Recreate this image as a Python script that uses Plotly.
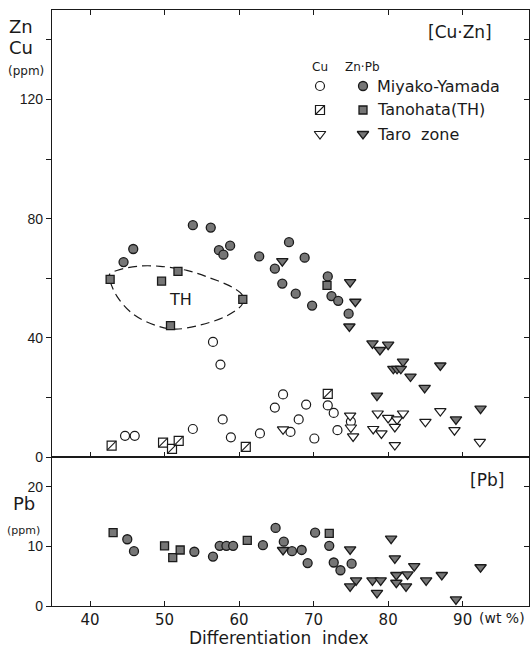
import plotly.graph_objects as go

# ---------------- data ----------------
# Upper panel: Cu (open symbols) and Zn (filled symbols), ppm
my_cu_x = [44.7, 46.0, 53.8, 56.5, 57.5, 57.8, 58.9, 62.8, 64.8, 65.9, 66.9, 68.0, 69.0, 70.1, 71.9, 72.7, 73.2, 75.0]
my_cu_y = [7.1, 7.1, 9.4, 38.6, 31.0, 12.6, 6.6, 7.9, 16.6, 21.0, 8.4, 12.6, 17.6, 6.2, 17.3, 14.8, 9.0, 11.9]

th_cu_x = [42.9, 49.8, 51.0, 51.9, 60.9, 71.9]
th_cu_y = [3.8, 4.8, 2.7, 5.4, 3.4, 21.2]

taro_cu_x = [65.9, 74.9, 75.0, 75.3, 78.6, 78.0, 79.1, 80.0, 81.2, 80.9, 82.0, 80.9, 85.0, 87.0, 88.9, 92.3]
taro_cu_y = [9.3, 13.9, 9.9, 6.9, 14.6, 9.4, 7.9, 13.1, 12.6, 10.1, 14.6, 4.0, 11.8, 15.4, 9.0, 5.1]

my_zn_x = [44.5, 45.8, 53.8, 56.2, 57.3, 57.9, 58.8, 62.7, 64.8, 65.8, 66.7, 67.6, 68.8, 69.8, 71.9, 72.4, 73.3, 74.7]
my_zn_y = [65.4, 69.8, 77.8, 77.0, 69.4, 67.9, 70.9, 67.3, 63.2, 58.2, 72.1, 54.8, 66.9, 50.8, 60.6, 54.0, 52.4, 48.1]

th_zn_x = [42.7, 49.6, 50.8, 51.8, 60.5, 71.8]
th_zn_y = [59.6, 59.0, 44.1, 62.3, 52.9, 57.6]

taro_zn_x = [65.8, 74.9, 75.6, 74.8, 77.9, 78.9, 80.0, 80.7, 81.2, 81.7, 82.0, 83.0, 87.0, 84.9, 78.5, 92.4, 89.1]
taro_zn_y = [65.7, 58.7, 52.1, 43.8, 38.1, 35.9, 37.7, 29.6, 29.6, 29.6, 32.0, 27.0, 30.7, 23.2, 20.6, 16.2, 12.6]

# Lower panel: Pb, ppm
my_pb_x = [45.0, 45.9, 54.0, 56.5, 57.4, 58.3, 59.2, 63.2, 64.9, 66.0, 67.1, 68.4, 69.2, 70.2, 72.1, 72.7, 73.6, 75.1]
my_pb_y = [11.2, 9.2, 9.1, 8.3, 10.1, 10.1, 10.1, 10.2, 13.1, 10.8, 9.2, 9.4, 7.2, 12.3, 10.1, 7.3, 6.0, 7.1]

th_pb_x = [43.1, 50.0, 51.1, 52.1, 61.1, 72.1]
th_pb_y = [12.3, 10.1, 8.1, 9.4, 11.0, 12.2]

taro_pb_x = [65.9, 74.9, 75.7, 74.9, 77.9, 79.0, 78.5, 80.4, 80.9, 81.1, 81.1, 82.4, 82.6, 83.5, 85.1, 87.2, 89.1, 92.4]
taro_pb_y = [9.4, 9.5, 4.3, 3.3, 4.3, 4.3, 2.2, 11.3, 8.0, 5.2, 3.9, 3.3, 5.3, 6.7, 4.3, 5.2, 1.1, 6.5]

# Tanohata (TH) field outline (dashed loop)
th_loop_x = [42.6, 42.7, 43.6, 45.8, 49.0, 51.4, 54.8, 58.3, 60.4, 60.5, 59.2, 56.1, 53.0, 49.4, 46.3, 43.6, 42.6]
th_loop_y = [61.2, 59.0, 54.0, 47.9, 44.0, 42.9, 44.3, 47.3, 51.2, 54.0, 56.8, 60.1, 62.6, 64.0, 64.0, 62.6, 61.2]

x_ticks = [40, 50, 60, 70, 80, 90]
x_tick_text = ["40", "50", "60", "70", "80", "90"]
top_y_ticks = [0, 20, 40, 60, 80, 100, 120, 140]
top_y_text = ["0", "", "40", "", "80", "", "120", ""]
bot_y_ticks = [0, 10, 20]
bot_y_text = ["0", "10", "20"]

legend_names = ["Miyako-Yamada", "Tanohata(TH)", "Taro  zone"]

# ---------------- layout helpers ----------------
W, H = 531, 651
ML, MR, MT, MB = 52, 2, 10, 45
PW, PH = W - ML - MR, H - MT - MB


def px(x):
    return (x - ML) / PW


def py(y):
    return (H - MB - y) / PH


INK = "#1a1a1a"
GRAY = "#767676"
MSIZE = 9
FONT = "DejaVu Sans"

fig = go.Figure()


def filled(x, y, sym, xa, ya, size=MSIZE):
    fig.add_trace(go.Scatter(x=x, y=y, mode="markers", xaxis=xa, yaxis=ya, showlegend=False,
                             cliponaxis=False,
                             marker=dict(symbol=sym, size=size, color=GRAY,
                                         line=dict(color=INK, width=1.3))))


def opened(x, y, sym, xa, ya, size=MSIZE):
    fig.add_trace(go.Scatter(x=x, y=y, mode="markers", xaxis=xa, yaxis=ya, showlegend=False,
                             cliponaxis=False,
                             marker=dict(symbol=sym, size=size, color="white",
                                         line=dict(color=INK, width=1.2))))


def slashed(x, y, xa, ya, size=MSIZE):
    opened(x, y, "square", xa, ya, size)
    fig.add_trace(go.Scatter(x=x, y=y, mode="markers", xaxis=xa, yaxis=ya, showlegend=False,
                             cliponaxis=False,
                             marker=dict(symbol="line-ne", size=size, color=INK,
                                         line=dict(color=INK, width=1.1))))


# TH outline
fig.add_trace(go.Scatter(x=th_loop_x, y=th_loop_y, mode="lines", xaxis="x", yaxis="y",
                         showlegend=False, line=dict(color=INK, width=1.2, dash="9px,5px", shape="spline",
                                                     smoothing=1.0)))

# upper panel
opened(my_cu_x, my_cu_y, "circle", "x", "y")
slashed(th_cu_x, th_cu_y, "x", "y")
opened(taro_cu_x, taro_cu_y, "triangle-down", "x", "y", 10)
filled(my_zn_x, my_zn_y, "circle", "x", "y")
filled(th_zn_x, th_zn_y, "square", "x", "y", 8)
filled(taro_zn_x, taro_zn_y, "triangle-down", "x", "y", 10)

# lower panel
filled(my_pb_x, my_pb_y, "circle", "x2", "y2")
filled(th_pb_x, th_pb_y, "square", "x2", "y2", 8)
filled(taro_pb_x, taro_pb_y, "triangle-down", "x2", "y2", 10)

# empty traces so the right-hand tick axes are drawn
fig.add_trace(go.Scatter(x=[], y=[], xaxis="x", yaxis="y4", showlegend=False))
fig.add_trace(go.Scatter(x=[], y=[], xaxis="x2", yaxis="y5", showlegend=False))

# legend keys on an invisible paper-space helper axis
row_y = [86, 110, 134]
col_open, col_fill, col_text = 320, 363, 375
opened([px(col_open)], [py(row_y[0])], "circle", "x3", "y3", 9)
slashed([px(col_open)], [py(row_y[1])], "x3", "y3", 9)
opened([px(col_open)], [py(row_y[2])], "triangle-down", "x3", "y3", 10)
filled([px(col_fill)], [py(row_y[0])], "circle", "x3", "y3", 9)
filled([px(col_fill)], [py(row_y[1])], "square", "x3", "y3", 8)
filled([px(col_fill)], [py(row_y[2])], "triangle-down", "x3", "y3", 10)

annotations = []


def text(s, x, y, size, xanchor="center", family=FONT):
    annotations.append(dict(text=s, x=px(x), y=py(y), xref="paper", yref="paper",
                            showarrow=False, xanchor=xanchor, yanchor="middle",
                            font=dict(family=family, size=size, color=INK)))


for name, ry in zip(legend_names, row_y):
    text(name, col_text, ry, 16, "left")
text("Cu", 320, 67, 12)
text("Zn·Pb", 362, 67, 12)
text("[Cu·Zn]", 460, 32, 17)
text("[Pb]", 487, 480, 17)
text("Zn", 21, 27, 18)
text("Cu", 21, 47, 18)
text("(ppm)", 26, 71, 12)
text("Pb", 24, 503, 18)
text("(ppm)", 23, 530, 11)
text("(wt %)", 477, 618, 14, "left")
text("Differentiation  index", 279, 638, 17)
annotations.append(dict(text="TH", x=52.2, y=52.9, xref="x", yref="y", showarrow=False,
                        font=dict(family=FONT, size=16, color=INK)))

axis_common = dict(showgrid=False, zeroline=False, linecolor=INK, linewidth=1.4,
                   tickcolor=INK, tickwidth=1.2, ticklen=5)

fig.update_layout(
    width=W, height=H,
    margin=dict(l=ML, r=MR, t=MT, b=MB, pad=0),
    paper_bgcolor="white", plot_bgcolor="rgba(0,0,0,0)",
    showlegend=False,
    annotations=annotations,
    xaxis=dict(domain=[0, 1], anchor="y", range=[34.9, 98.9], tickvals=x_ticks,
               showticklabels=False, ticks="inside", mirror="ticks", showline=True, **axis_common),
    yaxis=dict(domain=[0.25, 1], anchor="x", range=[0, 150], tickvals=top_y_ticks, ticktext=top_y_text,
               ticks="outside", mirror=True, showline=True,
               tickfont=dict(family="Liberation Sans", size=14, color=INK), **axis_common),
    yaxis4=dict(overlaying="y", side="right", anchor="x", range=[0, 150], tickvals=[20, 40, 60, 80, 100, 120, 140],
                showticklabels=False, ticks="inside", showline=False, showgrid=False, zeroline=False,
                tickcolor=INK, tickwidth=1.2, ticklen=5),
    xaxis2=dict(domain=[0, 1], anchor="y2", range=[34.9, 98.9], tickvals=x_ticks, ticktext=x_tick_text,
                ticks="inside", mirror=True, showline=True,
                tickfont=dict(family=FONT, size=15, color=INK), **axis_common),
    yaxis2=dict(domain=[0, 0.25], anchor="x2", range=[0, 25], tickvals=bot_y_ticks, ticktext=bot_y_text,
                ticks="outside", mirror=True, showline=True,
                tickfont=dict(family="Liberation Sans", size=14, color=INK), **axis_common),
    yaxis5=dict(overlaying="y2", side="right", anchor="x2", range=[0, 25], tickvals=[10, 20],
                showticklabels=False, ticks="inside", showline=False, showgrid=False, zeroline=False,
                tickcolor=INK, tickwidth=1.2, ticklen=5),
    xaxis3=dict(domain=[0, 1], anchor="y3", range=[0, 1], visible=False),
    yaxis3=dict(domain=[0, 1], anchor="x3", range=[0, 1], visible=False),
)

fig.write_html("out.html", config={"displayModeBar": False},
               post_script="document.body.style.margin='0px';")
